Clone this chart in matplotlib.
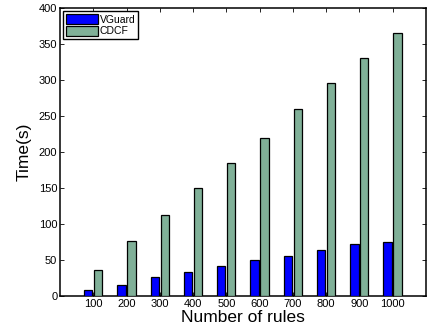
import matplotlib
matplotlib.use("Agg")
import matplotlib.pyplot as plt
import numpy as np

plt.rcParams['font.family'] = ['Liberation Sans', 'DejaVu Sans']

categories = ['100', '200', '300', '400', '500', '600', '700', '800', '900', '1000']
vguard = [8, 16, 26, 33, 42, 50, 56, 64, 72, 75]
cdcf = [36, 76, 113, 150, 185, 220, 260, 296, 330, 365]

fig = plt.figure(figsize=(4.35, 3.29), dpi=100)
ax = fig.add_axes([0.138, 0.100, 0.841, 0.876])

x = np.arange(1, len(categories) + 1)
w = 0.25
ax.bar(x - 0.15, vguard, w, color='#0000ff', edgecolor='black', linewidth=0.9, label='VGuard', zorder=3)
ax.bar(x + 0.15, cdcf, w, color='#80b098', edgecolor='black', linewidth=0.9, label='CDCF', zorder=3)

ax.set_xlim(0, 11)
ax.set_ylim(0, 400)
ax.set_xticks(x)
ax.set_xticklabels(categories)
ax.set_yticks(np.arange(0, 401, 50))
ax.tick_params(direction='in', top=True, right=True, labelsize=8, length=3, width=0.6, pad=2)
for s in ax.spines.values():
    s.set_linewidth(1.1)

ax.set_xlabel('Number of rules', fontsize=12.5, labelpad=0.5)
ax.set_ylabel('Time(s)', fontsize=12.5, labelpad=5)

leg = ax.legend(loc='upper left', fontsize=7.5, frameon=True, fancybox=False,
                edgecolor='black', framealpha=1, borderpad=0.3, handlelength=3.0,
                handleheight=1.1, handletextpad=0.2, labelspacing=0.1,
                borderaxespad=0.3)
leg.get_frame().set_linewidth(1.0)

fig.savefig('out.png', dpi=100)
